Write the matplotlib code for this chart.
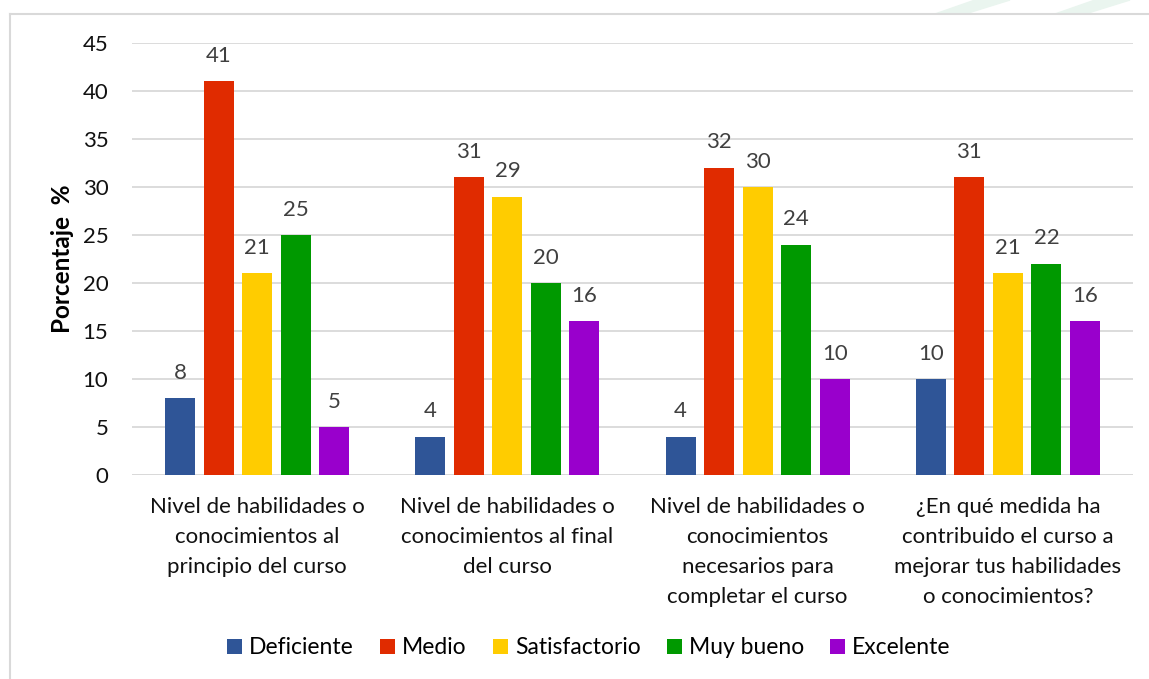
import matplotlib
matplotlib.use("Agg")
import matplotlib.pyplot as plt
import numpy as np
from matplotlib.patches import Polygon

plt.rcParams['font.family'] = ['Lato', 'DejaVu Sans']

categories = [
    "Nivel de habilidades o\nconocimientos al\nprincipio del curso",
    "Nivel de habilidades o\nconocimientos al final\ndel curso",
    "Nivel de habilidades o\nconocimientos\nnecesarios para\ncompletar el curso",
    "¿En qué medida ha\ncontribuido el curso a\nmejorar tus habilidades\no conocimientos?",
]
series_names = ["Deficiente", "Medio", "Satisfactorio", "Muy bueno", "Excelente"]
deficiente = [8, 4, 4, 10]
medio = [41, 31, 32, 31]
satisfactorio = [21, 29, 30, 21]
muy_bueno = [25, 20, 24, 22]
excelente = [5, 16, 10, 16]
series_values = [deficiente, medio, satisfactorio, muy_bueno, excelente]
colors = ["#2F5597", "#E02B00", "#FFCC00", "#009900", "#9900CC"]
yticks = [0, 5, 10, 15, 20, 25, 30, 35, 40, 45]

W, H = 1149, 679
fig = plt.figure(figsize=(W / 100, H / 100), dpi=100)
ax = fig.add_axes([132 / W, 1 - 475 / H, (1133 - 132) / W, (475 - 43) / H])

x = np.arange(len(categories))
step = 0.154
width = 0.12
for i, (name, vals, c) in enumerate(zip(series_names, series_values, colors)):
    pos = x + (i - 2) * step
    bars = ax.bar(pos, vals, width, color=c, label=name, zorder=3)
    for b, v in zip(bars, vals):
        ax.text(b.get_x() + b.get_width() / 2, v + 1.6, str(v), ha='center', va='bottom',
                fontsize=16, color='#404040')

ax.set_xlim(-0.5, len(categories) - 0.5)
ax.set_ylim(0, 45)
ax.set_yticks(yticks)
ax.set_yticklabels([str(t) for t in yticks], fontsize=16, color='#111111')
ax.set_xticks(x)
ax.set_xticklabels(categories, fontsize=16, color='#111111', linespacing=1.62, va='top')
ax.tick_params(axis='both', length=0)
ax.tick_params(axis='x', pad=16)
ax.tick_params(axis='y', pad=17)
ax.grid(axis='y', color='#D9D9D9', linewidth=1.3, zorder=0)
for s in ax.spines.values():
    s.set_visible(False)
ax.axhline(0, color='#D9D9D9', linewidth=1.3, zorder=2)
ax.set_ylabel("Porcentaje  %", fontsize=17.5, fontweight='bold')
ax.yaxis.set_label_coords(-58 / (1133 - 132), 0.5)

leg = fig.legend(loc='center', bbox_to_anchor=(589 / W, 1 - 648 / H), ncol=5, frameon=False,
                 fontsize=16.5, handlelength=0.65, handleheight=0.65, handletextpad=0.3,
                 columnspacing=1.15)

# outer frame (left and top visible)
fig.add_artist(plt.Line2D([10 / W, 10 / W], [0, 1 - 14 / H], color='#D9D9D9', lw=1.5,
                          transform=fig.transFigure))
fig.add_artist(plt.Line2D([10 / W, 1], [1 - 14 / H, 1 - 14 / H], color='#D9D9D9', lw=1.5,
                          transform=fig.transFigure))

# faint watermark shapes at top right
for x0 in (935, 1055):
    poly = Polygon([[x0 / W, 1 - 14 / H], [(x0 + 30) / W, 1 - 14 / H],
                    [(x0 + 75) / W, 1.0], [(x0 + 40) / W, 1.0]],
                   closed=True, transform=fig.transFigure, color='#EAF5EF', zorder=0)
    fig.add_artist(poly)

fig.savefig("out.png", dpi=100, facecolor='white')
